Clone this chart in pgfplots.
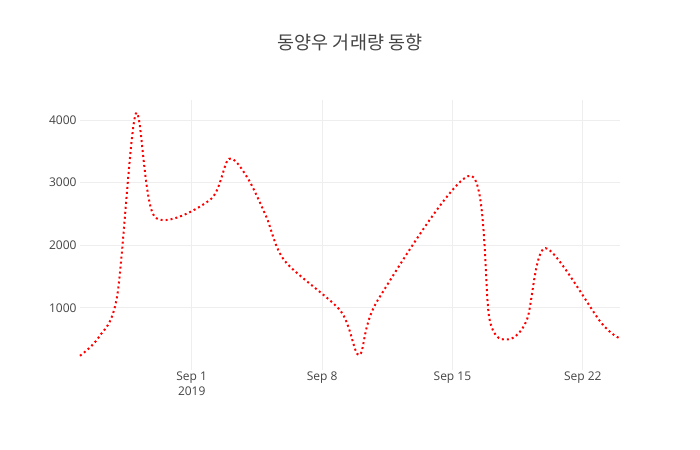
\documentclass[border=0pt]{standalone}
\usepackage{fontspec}
\setmainfont{Open Sans}
\newfontfamily\kr{Noto Sans CJK KR}
\usepackage{pgfplots}
\pgfplotsset{compat=1.18}
\definecolor{txt}{HTML}{444444}
\definecolor{gridc}{HTML}{EEEEEE}
\begin{document}
\begin{tikzpicture}[x=1bp,y=1bp]
\path[use as bounding box] (0,0) rectangle (700,450);
\begin{axis}[
  at={(80bp,80bp)}, anchor=south west,
  scale only axis, width=540bp, height=270bp,
  xmin=-6, xmax=23, ymin=10, ymax=4320,
  axis line style={draw=none}, tick style={draw=none},
  xtick={0,7,14,21},
  xticklabels={{Sep 1\\2019},{Sep 8},{Sep 15},{Sep 22}},
  xticklabel style={align=center, font=\fontsize{12bp}{15bp}\selectfont, text=txt, yshift=2bp},
  ytick={1000,2000,3000,4000},
  yticklabel style={font=\fontsize{12bp}{14bp}\selectfont, text=txt},
  /pgf/number format/assume math mode=true,
  /pgf/number format/1000 sep={},
  xmajorgrids, ymajorgrids,
  major grid style={draw=gridc, line width=1bp},
  clip=false,
]
\addplot[red, line width=2bp, dash pattern=on 2bp off 3bp, smooth, tension=0.5] coordinates {
(-6,237) (-5,530) (-4,1200) (-3,4104) (-2,2460) (1,2730) (2,3380) (3,3075) (4,2460) (5,1750)
(8,950) (9,248) (10,1130) (15,3112) (16,810) (17,500) (18,810) (19,1955) (22,760) (23,515)
};
\end{axis}
\node[text=txt, font=\kr\fontsize{18.5bp}{22bp}\selectfont] at (350,407) {동양우 거래량 동향};
\end{tikzpicture}
\end{document}
